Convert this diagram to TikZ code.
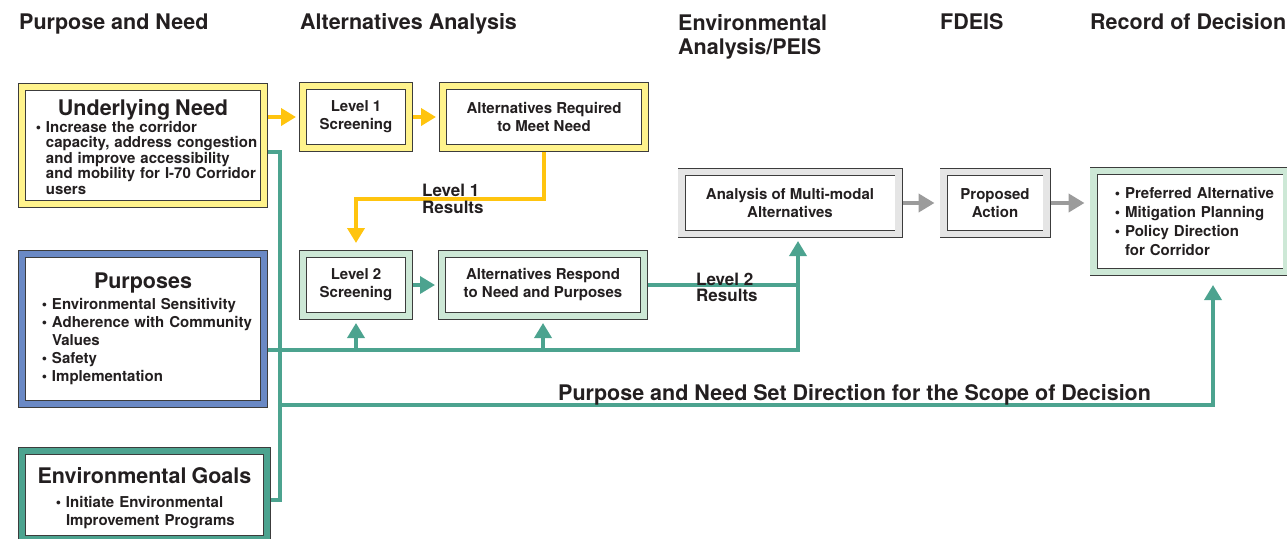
\documentclass[tikz,border=0pt]{standalone}
\usepackage{fontspec}
\setmainfont{TeX Gyre Heros}
\usepackage{tikz}
\usetikzlibrary{
  positioning,
  calc,
  arrows.meta
}
\definecolor{textdark}{RGB}{35,31,32}
\definecolor{framegray}{RGB}{60,60,60}
\definecolor{needyellow}{RGB}{255,243,140}
\definecolor{arrowyellow}{RGB}{255,196,14}
\definecolor{lightgreen}{RGB}{205,232,214}
\definecolor{lightgray}{RGB}{229,229,229}
\definecolor{arrowgray}{RGB}{155,155,155}
\definecolor{purpblue}{RGB}{106,137,197}
\definecolor{goalteal}{RGB}{76,163,143}

\tikzstyle{stagebox}=[draw=framegray, line width=0.8pt, double distance=6.4pt, fill=white, outer sep=4pt, inner sep=0pt, text=textdark, font=\fontsize{15}{18}\selectfont\bfseries]
\tikzstyle{yellowbox}=[stagebox, double=needyellow]
\tikzstyle{greenbox}=[stagebox, double=lightgreen]
\tikzstyle{graybox}=[stagebox, double=lightgray]
\tikzstyle{bluebox}=[stagebox, double=purpblue]
\tikzstyle{tealbox}=[stagebox, double=goalteal]
\tikzstyle{smallbox}=[align=center, minimum height=62pt]
\tikzstyle{heading}=[anchor=base west, inner sep=0pt, align=left, text=textdark, font=\fontsize{21.5}{24}\selectfont\bfseries]
\tikzstyle{pathlabel}=[anchor=west, inner sep=0pt, align=left, text=textdark, font=\fontsize{17}{16.5}\selectfont\bfseries]
\tikzstyle{yellowarrow}=[-{Triangle[length=15pt,width=17pt]}, draw=arrowyellow, line width=4pt, shorten >=3pt]
\tikzstyle{greenline}=[draw=goalteal, line width=3.5pt]
\tikzstyle{greenarrow}=[-{Triangle[length=15pt,width=17pt]}, greenline, shorten >=3pt]
\tikzstyle{grayarrow}=[-{Triangle[length=16pt,width=18pt]}, draw=arrowgray, line width=4.5pt, shorten >=5pt]

\begin{document}
\begin{tikzpicture}[x=1pt, y=-1pt]
    \def\bul{\leavevmode\llap{\textbullet\hspace{5pt}}} % bullet
    \def\titlefont{\fontsize{21.5}{24}\selectfont}

    \useasboundingbox (0,0) rectangle (1287,538);

    % headings
    \node[heading] (hneed) at (19,29.5) {Purpose and Need};
    \node[heading] (halt) at (300,29.5) {Alternatives Analysis};
    \node[heading, anchor=north west] (henv) at (678,14) {Environmental\\Analysis/PEIS};
    \node[heading] (hfdeis) at (940,29.5) {FDEIS};
    \node[heading] (hrod) at (1090,29.5) {Record of Decision};

    % purpose and need boxes
    \node[yellowbox, text width=242pt, minimum height=117pt] (need) at (143,145.5) {%
      {\centering\titlefont\rule{0pt}{18.7pt}Underlying Need\par}\vspace{0.5pt}
      \fontsize{15}{15.5}\selectfont\leftskip=24pt\noindent
      \bul Increase the corridor\\capacity, address congestion\\and improve accessibility\\and mobility for I-70 Corridor\\users\par};
    \node[bluebox, text width=242pt, minimum height=150pt] (purp) at (143,329) {%
      {\centering\titlefont Purposes\par}\vspace{3pt}
      \leftskip=30pt\noindent
      \bul Environmental Sensitivity\\\bul Adherence with Community\\Values\\\bul Safety\\\bul Implementation\par};
    \node[tealbox, text width=245pt, minimum height=88pt] (goals) at (144.5,495) {%
      {\centering\titlefont\rule{0pt}{21.7pt}Environmental Goals\par}\vspace{6pt}
      \leftskip=44pt\noindent
      \bul Initiate Environmental\\Improvement Programs\par};

    % alternatives analysis boxes
    \node[yellowbox, smallbox, minimum width=106pt] (lvl1) at (356,117) {Level 1\\Screening};
    \node[yellowbox, smallbox, minimum width=202pt] (altreq) at (544,117) {Alternatives Required\\to Meet Need};
    \node[greenbox, smallbox, minimum width=106pt] (lvl2) at (356,285) {Level 2\\Screening};
    \node[greenbox, smallbox, minimum width=202pt] (altresp) at (543,285) {Alternatives Respond\\to Need and Purposes};

    % EIS and decision boxes
    \node[graybox, smallbox, minimum width=217pt] (anal) at (790,203) {Analysis of Multi-modal\\Alternatives};
    \node[graybox, smallbox, minimum width=103pt] (prop) at (995,203) {Proposed\\Action};
    \node[greenbox, text width=193pt, minimum height=101pt] (rod) at (1190,221.5) {%
      \fontsize{15}{18.7}\selectfont\leftskip=31.5pt\noindent
      \bul Preferred Alternative\\\bul Mitigation Planning\\\bul Policy Direction\\for Corridor\par};

    % level 1 screening
    \draw[yellowarrow] (need.east |- lvl1.west) -- (lvl1.west);
    \draw[yellowarrow] (lvl1) -- (altreq);
    \draw[yellowarrow, shorten >=7pt] (altreq.south) -- ++(0,47) -| (lvl2.north);
    \node[pathlabel] (res1) at (422,199) {Level 1\\Results};

    % level 2 screening
    \coordinate (j2) at (798,350);
    \draw[greenarrow] (lvl2) -- (altresp);
    \draw[greenline] (altresp.east) -- (altresp.east -| j2);
    \draw[greenarrow] (purp.east |- j2) -- (j2) -- (anal.south -| j2);
    \draw[greenarrow] (lvl2.south |- j2) -- (lvl2.south);
    \draw[greenarrow] (altresp.south |- j2) -- (altresp.south);
    \node[pathlabel] (res2) at (696,287.5) {Level 2\\Results};

    % scope of decision
    \coordinate (n1) at (280,152);
    \coordinate (g1) at (280,500);
    \coordinate (j3) at (1213,405);
    \draw[greenline] (need.east |- n1) -- (n1) -- (g1) -- (goals.east |- g1);
    \draw[greenarrow, shorten >=9pt] (n1 |- j3) -- (j3) -- (j3 |- rod.south);
    \node[heading] (scope) at (558,400.5) {Purpose and Need Set Direction for the Scope of Decision};

    % FDEIS and record of decision
    \draw[grayarrow] (anal) -- (prop);
    \draw[grayarrow] (prop.east) -- (prop.east -| rod.west);
\end{tikzpicture}
\end{document}
